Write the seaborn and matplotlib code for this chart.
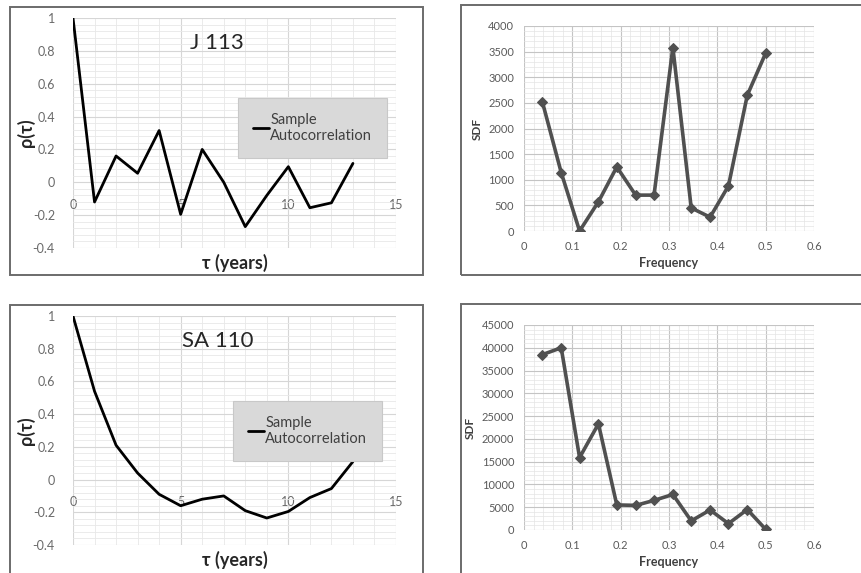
import matplotlib
matplotlib.use("Agg")
import matplotlib.pyplot as plt
from matplotlib.patches import Rectangle
from matplotlib.ticker import MultipleLocator, FuncFormatter
import pandas as pd
import seaborn as sns

# autocorrelation, lag in years
lags = [0, 1, 2, 3, 4, 5, 6, 7, 8, 9, 10, 11, 12, 13]
acf_j113 = [1.0, -0.12, 0.16, 0.055, 0.315, -0.195, 0.20, 0.0, -0.27, -0.08, 0.095, -0.155, -0.125, 0.115]
acf_sa110 = [1.0, 0.54, 0.21, 0.04, -0.09, -0.16, -0.12, -0.10, -0.19, -0.235, -0.195, -0.11, -0.055, 0.11]

# spectral density
freqs = [0.038, 0.077, 0.115, 0.154, 0.192, 0.231, 0.269, 0.308, 0.346, 0.385, 0.423, 0.462, 0.5]
sdf_j113 = [2520, 1140, 0, 570, 1250, 700, 700, 3580, 450, 270, 880, 2650, 3470]
sdf_sa110 = [38500, 40000, 15900, 23300, 5500, 5400, 6500, 7800, 2000, 4400, 1400, 4500, 150]

titles = ["J 113", "SA 110"]

sns.set_style("white")
plt.rcParams["font.family"] = ["Lato", "DejaVu Sans"]

W, H = 862, 573
fig = plt.figure(figsize=(W / 100, H / 100), dpi=100)


def px_rect(l, t, r, b):
    return [l / W, (H - b) / H, (r - l) / W, (b - t) / H]


fmt = FuncFormatter(lambda v, p: "%g" % round(v, 6))

# outer frames
for (l, t, r, b) in [(10, 7, 423, 275), (10, 305, 423, 580), (461, 5, 868, 275), (461, 304, 868, 580)]:
    fig.add_artist(Rectangle((l / W, (H - b) / H), (r - l) / W, (b - t) / H,
                             transform=fig.transFigure, fill=False,
                             edgecolor="#6b6b6b", lw=1.4))


def acf_panel(rect, vals, title, leg_rect):
    ax = fig.add_axes(px_rect(*rect))
    df = pd.DataFrame({"lag": lags, "rho": vals})
    sns.lineplot(data=df, x="lag", y="rho", ax=ax, color="black", lw=2.0,
                 label="Sample\nAutocorrelation")
    ax.set_xlim(0, 15)
    ax.set_ylim(-0.4, 1)
    ax.xaxis.set_major_locator(MultipleLocator(5))
    ax.xaxis.set_minor_locator(MultipleLocator(1))
    ax.yaxis.set_major_locator(MultipleLocator(0.2))
    ax.yaxis.set_minor_locator(MultipleLocator(0.04))
    ax.xaxis.set_major_formatter(fmt)
    ax.yaxis.set_major_formatter(fmt)
    ax.grid(which="major", color="#d6d6d6", lw=0.8)
    ax.grid(which="minor", color="#e8e8e8", lw=0.6)
    ax.set_axisbelow(True)
    for s in ax.spines.values():
        s.set_visible(False)
    ax.spines["bottom"].set_position(("data", 0))
    ax.tick_params(length=0, labelsize=9, colors="#6a6a6a")
    ax.tick_params(axis="x", pad=12)
    ax.tick_params(axis="y", pad=13)
    ax.set_xlabel("τ (years)", fontsize=13, fontweight="bold", color="#262626", va="center")
    ax.xaxis.set_label_coords(0.5, -15 / (rect[3] - rect[1]))
    ax.set_ylabel("ρ(τ)", fontsize=13, fontweight="bold", color="#262626", va="center")
    ax.yaxis.set_label_coords(-0.145, 0.5)
    ax.text(6.7, 0.85, title, fontsize=16, ha="center", va="center", color="#262626")
    l, t, r, b = leg_rect
    leg = ax.legend(loc="upper left", bbox_to_anchor=((l - rect[0]) / (rect[2] - rect[0]),
                                                      1 - (t - rect[1]) / (rect[3] - rect[1])),
                    frameon=True, fancybox=False, facecolor="#d9d9d9", edgecolor="#c8c8c8",
                    framealpha=1, fontsize=10.5, handlelength=1.1, handletextpad=0.1,
                    borderpad=1.0, borderaxespad=0)
    leg.get_frame().set_linewidth(0.8)
    for txt in leg.get_texts():
        txt.set_color("#404040")
        txt.set_linespacing(1.25)
    return ax


def sdf_panel(rect, vals, ymax, major, minor):
    ax = fig.add_axes(px_rect(*rect))
    df = pd.DataFrame({"freq": freqs, "sdf": vals})
    sns.lineplot(data=df, x="freq", y="sdf", ax=ax, color="#505050", lw=2.6,
                 marker="D", markersize=5.5, markeredgecolor="#505050")
    ax.set_xlim(0, 0.6)
    ax.set_ylim(0, ymax)
    ax.xaxis.set_major_locator(MultipleLocator(0.1))
    ax.xaxis.set_minor_locator(MultipleLocator(0.02))
    ax.yaxis.set_major_locator(MultipleLocator(major))
    ax.yaxis.set_minor_locator(MultipleLocator(minor))
    ax.xaxis.set_major_formatter(fmt)
    ax.yaxis.set_major_formatter(fmt)
    ax.grid(which="major", color="#c4c4c4", lw=0.8)
    ax.grid(which="minor", color="#e4e4e4", lw=0.5)
    ax.set_axisbelow(True)
    for s in ax.spines.values():
        s.set_visible(False)
    ax.tick_params(length=0, labelsize=8, colors="#5a5a5a")
    ax.tick_params(axis="x", pad=7)
    ax.tick_params(axis="y", pad=7)
    ax.set_xlabel("Frequency", fontsize=9, fontweight="bold", color="#404040", labelpad=4)
    ax.set_ylabel("SDF", fontsize=8.5, fontweight="bold", color="#404040", labelpad=4)
    return ax


acf_panel((73, 18, 396, 248), acf_j113, titles[0], (238, 98, 392, 156))
acf_panel((73, 316, 396, 545), acf_sa110, titles[1], (233, 401, 387, 459))
sdf_panel((524, 26, 814, 231), sdf_j113, 4000, 500, 100)
sdf_panel((524, 325, 814, 530), sdf_sa110, 45000, 5000, 1000)

fig.savefig("out.png", dpi=100)
